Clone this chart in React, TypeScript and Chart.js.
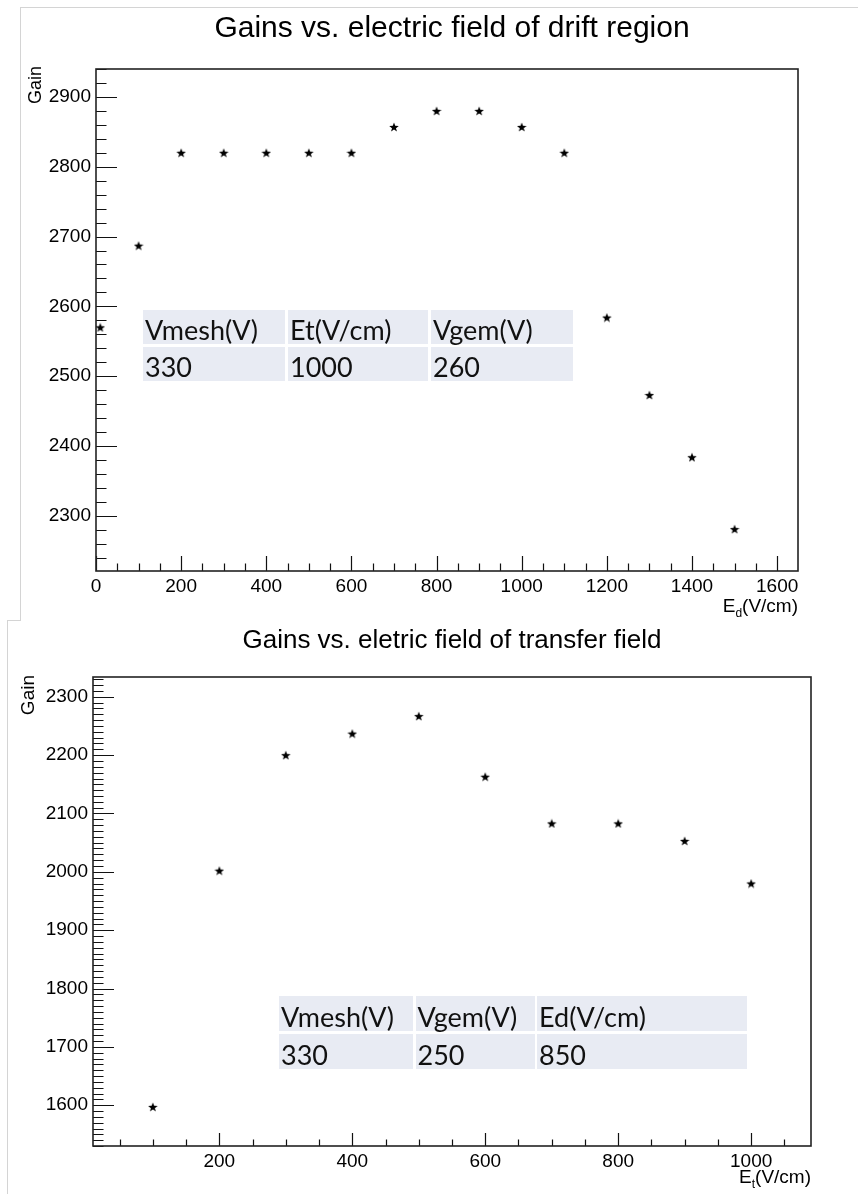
import React, { useEffect, useRef } from "react";
import { Chart, registerables } from "chart.js";

Chart.register(...registerables);

// ---------- data ----------
const driftTitle = "Gains vs. electric field of drift region";
const driftField = [10, 100, 200, 300, 400, 500, 600, 700, 800, 900, 1000, 1100, 1200, 1300, 1400, 1500];
const driftGain = [2570, 2687, 2820, 2820, 2820, 2820, 2820, 2857, 2880, 2880, 2857, 2820, 2584, 2473, 2384, 2281];
const driftXTicks = [0, 200, 400, 600, 800, 1000, 1200, 1400, 1600];
const driftYTicks = [2300, 2400, 2500, 2600, 2700, 2800, 2900];
const driftTableHeaders = ["Vmesh(V)", "Et(V/cm)", "Vgem(V)"];
const driftTableValues = ["330", "1000", "260"];

const transferTitle = "Gains vs. eletric field of transfer field";
const transferField = [100, 200, 300, 400, 500, 600, 700, 800, 900, 1000];
const transferGain = [1597, 2002, 2200, 2237, 2267, 2163, 2083, 2083, 2053, 1980];
const transferXTicks = [200, 400, 600, 800, 1000];
const transferYTicks = [1600, 1700, 1800, 1900, 2000, 2100, 2200, 2300];
const transferTableHeaders = ["Vmesh(V)", "Vgem(V)", "Ed(V/cm)"];
const transferTableValues = ["330", "250", "850"];

const yAxisTitle = "Gain";

// ---------- helpers ----------
function makeStar(size: number) {
  const c = document.createElement("canvas");
  c.width = size;
  c.height = size;
  const ctx = c.getContext("2d")!;
  const cx = size / 2, cy = size / 2 + 0.5;
  const R = size / 2, r = R * 0.42;
  ctx.beginPath();
  for (let i = 0; i < 10; i++) {
    const rad = i % 2 === 0 ? R : r;
    const a = -Math.PI / 2 + (i * Math.PI) / 5;
    const px = cx + rad * Math.cos(a);
    const py = cy + rad * Math.sin(a);
    if (i === 0) ctx.moveTo(px, py);
    else ctx.lineTo(px, py);
  }
  ctx.closePath();
  ctx.fillStyle = "#000";
  ctx.fill();
  return c;
}

const frameTicksPlugin = {
  id: "frameTicks",
  beforeDatasetsDraw(chart: any, _args: any, opts: any) {
    const { ctx, chartArea } = chart;
    const { left, right, top, bottom } = chartArea;
    const xs = chart.scales.x;
    const ys = chart.scales.y;
    ctx.save();
    ctx.strokeStyle = "#111";
    ctx.lineWidth = 1.2;
    const isMajor = (v: number, major: number) => Math.abs(v / major - Math.round(v / major)) < 1e-6;
    ctx.beginPath();
    for (let v = Math.ceil(xs.min / opts.xMinor) * opts.xMinor; v <= xs.max + 1e-9; v += opts.xMinor) {
      const px = Math.round(xs.getPixelForValue(v)) + 0.5;
      const len = isMajor(v, opts.xMajor) ? opts.xMajorLen : opts.xMinorLen;
      ctx.moveTo(px, bottom);
      ctx.lineTo(px, bottom - len);
    }
    for (let v = Math.ceil(ys.min / opts.yMinor) * opts.yMinor; v <= ys.max + 1e-9; v += opts.yMinor) {
      const py = Math.round(ys.getPixelForValue(v)) + 0.5;
      const len = isMajor(v, opts.yMajor) ? opts.yMajorLen : opts.yMinorLen;
      ctx.moveTo(left, py);
      ctx.lineTo(left + len, py);
    }
    ctx.stroke();
    ctx.lineWidth = 1.6;
    ctx.strokeStyle = "#222";
    ctx.strokeRect(left, top, right - left, bottom - top);
    ctx.restore();
  },
};

type PanelProps = {
  width: number;
  height: number;
  area: { left: number; top: number; right: number; bottom: number };
  xs: number[];
  ys: number[];
  xTicks: number[];
  yTicks: number[];
  xRange: [number, number];
  yRange: [number, number];
  ticks: any;
  fontSize: number;
};

const tickFont = "'Liberation Sans', Arial, sans-serif";

function ScatterPanel(p: PanelProps) {
  const ref = useRef<HTMLCanvasElement | null>(null);
  useEffect(() => {
    if (!ref.current) return;
    const star = makeStar(10);
    const chart = new Chart(ref.current, {
      type: "scatter",
      data: {
        datasets: [
          {
            data: p.xs.map((x, i) => ({ x, y: p.ys[i] })),
            pointStyle: star as any,
            pointRadius: 5,
            backgroundColor: "#000",
            borderColor: "#000",
          },
        ],
      },
      options: {
        responsive: false,
        animation: false,
        devicePixelRatio: 1,
        layout: {
          padding: { left: 0, top: p.area.top, right: p.width - p.area.right, bottom: 0 },
        },
        plugins: {
          legend: { display: false },
          tooltip: { enabled: false },
          title: { display: false },
          frameTicks: p.ticks,
        } as any,
        scales: {
          x: {
            type: "linear",
            min: p.xRange[0],
            max: p.xRange[1],
            grid: { display: false, drawTicks: false },
            border: { display: false },
            afterBuildTicks: (s: any) => {
              s.ticks = p.xTicks.map((v) => ({ value: v }));
            },
            ticks: {
              autoSkip: false,
              maxRotation: 0,
              padding: 4,
              color: "#000",
              callback: (v: any) => String(v),
              font: { family: tickFont, size: p.fontSize },
            },
            afterFit: (s: any) => {
              s.height = p.height - p.area.bottom;
            },
          },
          y: {
            type: "linear",
            min: p.yRange[0],
            max: p.yRange[1],
            grid: { display: false, drawTicks: false },
            border: { display: false },
            afterBuildTicks: (s: any) => {
              s.ticks = p.yTicks.map((v) => ({ value: v }));
            },
            ticks: {
              autoSkip: false,
              padding: 5,
              color: "#000",
              callback: (v: any) => String(v),
              font: { family: tickFont, size: p.fontSize },
            },
            afterFit: (s: any) => {
              s.width = p.area.left;
            },
          },
        },
      },
      plugins: [frameTicksPlugin],
    });
    return () => chart.destroy();
  }, []);
  return <canvas ref={ref} width={p.width} height={p.height} style={{ position: "absolute", left: 0, top: 0 }} />;
}

function InfoTable(props: {
  left: number;
  top: number;
  cols: number[];
  rowH: number;
  gap: number;
  headers: string[];
  values: string[];
}) {
  const cells: any[] = [];
  [props.headers, props.values].forEach((row, r) => {
    let x = props.left;
    row.forEach((txt, c) => {
      cells.push(
        <div
          key={r + "-" + c}
          style={{
            position: "absolute",
            left: x,
            top: props.top + r * (props.rowH + props.gap),
            width: props.cols[c],
            height: props.rowH,
            background: "#E8EBF3",
            fontFamily: "Lato, 'Noto Sans', sans-serif",
            fontSize: 27,
            lineHeight: props.rowH + "px",
            paddingLeft: 2,
            paddingTop: 3,
            boxSizing: "border-box",
            color: "#111",
            whiteSpace: "nowrap",
          }}
        >
          {txt}
        </div>
      );
      x += props.cols[c] + props.gap;
    });
  });
  return <>{cells}</>;
}

export default function App() {
  return (
    <div
      style={{
        position: "absolute",
        left: 0,
        top: 0,
        width: 858,
        height: 1194,
        background: "#fff",
        overflow: "hidden",
        fontFamily: tickFont,
      }}
    >
      {/* top panel */}
      <div style={{ position: "absolute", left: 0, top: 0, width: 858, height: 620 }}>
        <ScatterPanel
          width={858}
          height={620}
          area={{ left: 96, top: 69, right: 798, bottom: 571 }}
          xs={driftField}
          ys={driftGain}
          xTicks={driftXTicks}
          yTicks={driftYTicks}
          xRange={[0, 1649]}
          yRange={[2221, 2940]}
          fontSize={19}
          ticks={{ xMajor: 200, xMinor: 50, xMajorLen: 15, xMinorLen: 7.5, yMajor: 100, yMinor: 20, yMajorLen: 21, yMinorLen: 10.5 }}
        />
        <div style={{ position: "absolute", left: 20, top: 7, width: 838, height: 613, borderLeft: "1px solid #d4d4d4", borderTop: "1px solid #d4d4d4", pointerEvents: "none" }} />
        <div style={{ position: "absolute", left: 452, top: 12, transform: "translateX(-50%)", fontSize: 30, lineHeight: 1, whiteSpace: "nowrap", color: "#000" }}>
          {driftTitle}
        </div>
        <div style={{ position: "absolute", left: 26, top: 66, fontSize: 18, lineHeight: 1, writingMode: "vertical-rl", transform: "rotate(180deg)", color: "#000" }}>
          {yAxisTitle}
        </div>
        <div style={{ position: "absolute", right: 858 - 798, top: 596, fontSize: 19, lineHeight: 1, whiteSpace: "nowrap", color: "#000" }}>
          E<span style={{ fontSize: 12, position: "relative", top: 5 }}>d</span>(V/cm)
        </div>
        <InfoTable left={143} top={310} cols={[142, 140, 142]} rowH={34} gap={3} headers={driftTableHeaders} values={driftTableValues} />
      </div>
      {/* bottom panel */}
      <div style={{ position: "absolute", left: 0, top: 620, width: 858, height: 574 }}>
        <ScatterPanel
          width={858}
          height={574}
          area={{ left: 93, top: 57, right: 811, bottom: 526 }}
          xs={transferField}
          ys={transferGain}
          xTicks={transferXTicks}
          yTicks={transferYTicks}
          xRange={[10, 1090]}
          yRange={[1530, 2334]}
          fontSize={19}
          ticks={{ xMajor: 200, xMinor: 50, xMajorLen: 13, xMinorLen: 6.5, yMajor: 100, yMinor: 10, yMajorLen: 21, yMinorLen: 10.5 }}
        />
        <div style={{ position: "absolute", left: 7, top: 0, width: 13, height: 574, borderLeft: "1px solid #d4d4d4", borderTop: "1px solid #d4d4d4", pointerEvents: "none" }} />
        <div style={{ position: "absolute", left: 452, top: 6, transform: "translateX(-50%)", fontSize: 26, lineHeight: 1, whiteSpace: "nowrap", color: "#000" }}>
          {transferTitle}
        </div>
        <div style={{ position: "absolute", left: 18, top: 55, fontSize: 19, lineHeight: 1, writingMode: "vertical-rl", transform: "rotate(180deg)", color: "#000" }}>
          {yAxisTitle}
        </div>
        <div style={{ position: "absolute", right: 858 - 811, top: 547, fontSize: 19, lineHeight: 1, whiteSpace: "nowrap", color: "#000" }}>
          E<span style={{ fontSize: 12, position: "relative", top: 5 }}>t</span>(V/cm)
        </div>
        <InfoTable left={279} top={376} cols={[134, 119, 210]} rowH={35} gap={2.5} headers={transferTableHeaders} values={transferTableValues} />
      </div>
    </div>
  );
}
